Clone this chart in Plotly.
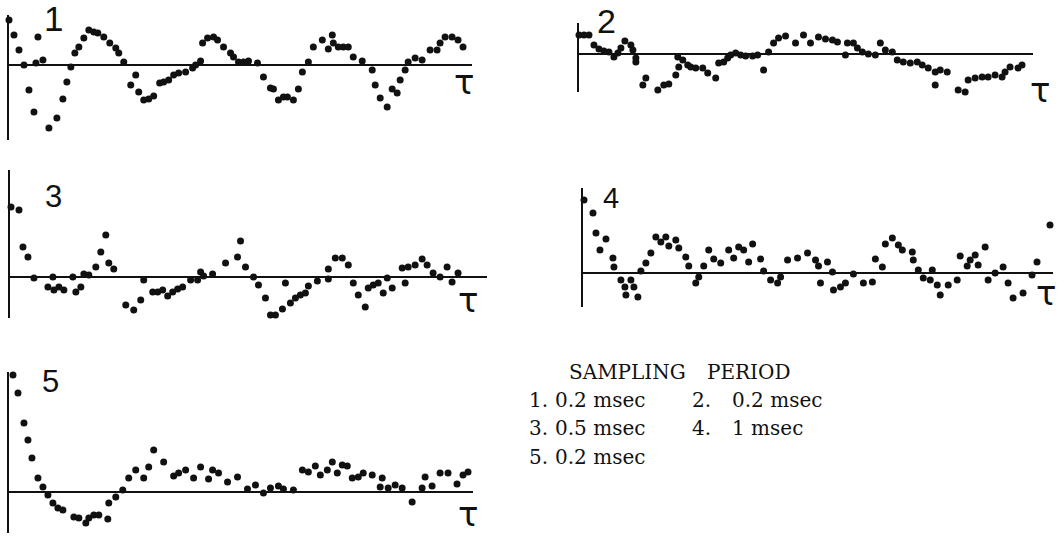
import plotly.graph_objects as go

# ---- data (arbitrary units: lag and correlation) ----
p1_lag = [0, 5, 10, 15, 20, 25, 27, 29, 34, 40, 48, 54, 58, 62, 66, 70, 75, 80, 85, 89, 95, 101, 107, 110, 115,
          122, 127, 130, 135, 140, 145, 151, 155, 160, 165, 170, 177, 184, 187, 192, 194, 199, 205, 209, 215, 222,
          225, 230, 235, 240, 249, 255, 262, 265, 270, 275, 279, 285, 290, 294, 300, 305, 314, 320, 324, 325, 330,
          335, 340, 345, 354, 364, 367, 372, 379, 384, 389, 392, 397, 400, 407, 414, 422, 429, 432, 437, 444, 450, 455]
p1_val = [45, 30, 15, 0, -25, -47, 2, 28, 5, -63, -53, -34, -17, -2, 12, 18, 27, 35, 33, 32, 28, 22, 17, 12, 3,
          -20, -10, -27, -35, -34, -31, -18, -17, -15, -10, -8, -7, -3, 0, 4, 22, 27, 28, 25, 18, 12,
          8, 3, 3, 4, 2, -12, -23, -24, -35, -32, -32, -35, -24, -7, 3, 18, 25, 16, 30, 22, 18,
          18, 18, 8, 4, -5, -20, -33, -42, -24, -28, -15, -5, 3, 7, 5, 15, 15, 22, 28, 28, 25, 18]

p2_lag = [0, 5, 10, 15, 20, 25, 30, 35, 39, 42, 46, 52, 54, 57, 57, 64, 67, 75, 79, 85, 90, 97, 100, 99, 104,
          109, 112, 117, 124, 129, 137, 140, 145, 149, 152, 157, 162, 167, 174, 179, 185, 190, 195, 200, 207,
          217, 225, 232, 240, 247, 254, 259, 267, 269, 275, 279, 284, 290, 297, 302, 307, 314, 319, 325, 332,
          339, 344, 350, 357, 357, 362, 369, 380, 387, 390, 397, 404, 410, 417, 424, 427, 432, 440, 444, 459]
p2_val = [19, 19, 19, 9, 5, 3, 2, -3, 1, 6, 13, 9, 4, -4, -8, -31, -24, -39, -36, -31, -30, -21, -13, -3, -6,
          -11, -13, -14, -14, -19, -24, -9, -8, -4, -1, 1, -1, -2, -2, -1, -16, 2, 11, 16, 18,
          11, 19, 11, 17, 15, 14, 12, -1, 11, 11, 6, 2, 0, -1, 11, 4, 2, -6, -8, -9,
          -8, -11, -14, -18, -31, -16, -18, -36, -38, -26, -24, -23, -23, -21, -23, -18, -13, -14, -11, -8]

p3_lag = [1, 9, 13, 18, 24, 38, 43, 44, 49, 54, 63, 66, 71, 74, 79, 86, 91, 96, 99, 104, 116, 124, 131, 134,
          143, 148, 153, 158, 163, 168, 173, 181, 188, 191, 194, 203, 216, 228, 231, 236, 244, 249, 256, 261,
          266, 273, 276, 281, 286, 291, 296, 299, 308, 319, 319, 326, 333, 339, 344, 349, 356, 359, 364, 369,
          374, 378, 383, 393, 396, 399, 406, 413, 418, 424, 431, 438, 443, 449]
p3_val = [70, 67, 30, 20, -1, -10, 0, -13, -10, -13, 0, -15, -10, 3, 2, 10, 25, 42, 14, 8, -28, -33, -23, -3,
          -15, -15, -13, -19, -15, -12, -10, -3, -3, 5, 1, 3, 14, 20, 36, 10, 0, -8, -21, -38,
          -38, -32, -6, -26, -21, -18, -16, -9, -4, -2, 8, 19, 19, 12, -6, -18, -30, -11, -8, -6,
          -16, -1, -11, 9, -6, 10, 12, 18, 12, 4, 0, 10, -5, 4]

p4_lag = [1, 10, 13, 17, 23, 30, 31, 38, 42, 43, 48, 51, 55, 58, 63, 68, 73, 78, 83, 86, 93, 96, 103, 106,
          113, 116, 121, 126, 131, 138, 146, 151, 156, 161, 166, 170, 178, 181, 188, 195, 198, 205, 215, 225,
          233, 236, 238, 245, 250, 251, 258, 263, 271, 281, 290, 293, 300, 303, 310, 316, 320, 330, 331, 336,
          341, 348, 350, 355, 358, 366, 375, 378, 385, 388, 393, 396, 403, 406, 413, 421, 426, 431, 441, 450,
          455, 468]
p4_val = [73, 60, 40, 23, 34, 15, 6, -7, -14, -22, -7, -14, -24, 2, 10, 20, 36, 31, 36, 27, 33, 25, 16, 7,
          -10, -4, 7, 23, 14, 10, 23, 15, 26, 23, 11, 29, 14, 2, -7, -10, -4, 13, 15, 20,
          13, 7, -10, 11, 1, -17, -14, -10, -1, -10, -9, 14, 6, 29, 35, 28, 23, 21, 13, 3,
          -5, -7, 3, -12, -22, -12, -7, 17, 7, 13, 18, 8, 26, -7, 0, 6, -10, -25, -20, -2,
          11, 48]

p5_lag = [4, 9, 15, 19, 23, 29, 34, 39, 44, 49, 54, 65, 70, 77, 80, 85, 90, 99, 100, 107, 114, 120, 127, 135,
          140, 145, 155, 165, 170, 177, 185, 192, 200, 204, 210, 219, 229, 239, 247, 255, 262, 270, 275, 285,
          294, 300, 307, 312, 319, 324, 329, 334, 339, 344, 350, 355, 364, 374, 372, 380, 387, 394, 404, 414,
          417, 424, 432, 440, 449, 455, 460]
p5_val = [117, 99, 69, 52, 34, 14, 5, -3, -11, -16, -18, -25, -26, -31, -26, -23, -23, -27, -11, -5, 2, 14, 22, 14,
          25, 42, 30, 16, 19, 22, 14, 25, 13, 22, 19, 10, 15, 3, 7, -1, 4, 6, 3, 2,
          22, 20, 26, 17, 22, 30, 19, 27, 26, 14, 15, 19, 17, 14, 5, 4, 7, 4, -10, 4,
          15, 6, 19, 19, 8, 17, 20]

panel_names = ["1", "2", "3", "4", "5"]
legend_title = ["SAMPLING", "PERIOD"]
legend_items = [("1.", "0.2 msec"), ("2.", "0.2 msec"), ("3.", "0.5 msec"), ("4.", "1 msec"), ("5.", "0.2 msec")]

W, H = 1058, 536
INK = "#111111"

# panel geometry in window pixels: origin x, zero-line y, axis top, axis bottom, right end
geom = [
    (8, 65, 15, 140, 472),
    (578, 54, 23, 92, 1033),
    (9, 277, 170, 318, 487),
    (582, 273, 188, 307, 1053),
    (8, 492, 372, 533, 473),
]
label_pos = [(53, 18, 35), (606, 21, 34), (53, 196, 31), (611, 198, 29), (50, 381, 31)]
tau_pos = [(464, 82), (1040, 90), (468, 300), (1046, 293), (468, 514)]
series = [(p1_lag, p1_val), (p2_lag, p2_val), (p3_lag, p3_val), (p4_lag, p4_val), (p5_lag, p5_val)]

fig = go.Figure()
annotations = []


def px(x):
    return x / W


def py(y):
    return 1 - y / H


for i, ((lag, val), (ox, oy, ya, yb, xr)) in enumerate(zip(series, geom), start=1):
    xa = "x" if i == 1 else f"x{i}"
    yax = "y" if i == 1 else f"y{i}"
    fig.add_trace(go.Scatter(
        x=lag, y=val, mode="markers",
        marker=dict(size=7, color=INK, line=dict(width=0)),
        xaxis=xa, yaxis=yax, cliponaxis=False, showlegend=False, hoverinfo="skip",
    ))
    fig.layout[f"xaxis{i if i > 1 else ''}"] = dict(
        domain=[px(ox + 1), px(xr)], range=[0, xr - ox], anchor=yax,
        showgrid=False, zeroline=False, showline=False, showticklabels=False, ticks="",
    )
    fig.layout[f"yaxis{i if i > 1 else ''}"] = dict(
        domain=[py(yb), py(ya)], range=[oy - yb, oy - ya], anchor=xa,
        showgrid=False, showline=True, linecolor=INK, linewidth=2,
        zeroline=True, zerolinecolor=INK, zerolinewidth=2,
        showticklabels=False, ticks="",
    )
    lx, ly, ls = label_pos[i - 1]
    annotations.append(dict(x=px(lx), y=py(ly), xref="paper", yref="paper", text=panel_names[i - 1],
                            showarrow=False, xanchor="center", yanchor="middle",
                            font=dict(family="Liberation Sans", size=ls, color=INK)))
    tx, ty = tau_pos[i - 1]
    annotations.append(dict(x=px(tx), y=py(ty), xref="paper", yref="paper", text="τ",
                            showarrow=False, xanchor="center", yanchor="middle",
                            font=dict(family="DejaVu Sans", size=34, color=INK)))

serif = dict(family="DejaVu Serif", size=20, color=INK)
annotations.append(dict(x=px(627), y=py(372), xref="paper", yref="paper", text=legend_title[0],
                        showarrow=False, xanchor="center", yanchor="middle", font=serif))
annotations.append(dict(x=px(748), y=py(372), xref="paper", yref="paper", text=legend_title[1],
                        showarrow=False, xanchor="center", yanchor="middle", font=serif))
item_pos = [(527, 553, 400), (690, 730, 400), (527, 553, 428), (690, 730, 428), (527, 553, 457)]
for (num, txt), (nx, tx2, yy) in zip(legend_items, item_pos):
    annotations.append(dict(x=px(nx), y=py(yy), xref="paper", yref="paper", text=num,
                            showarrow=False, xanchor="left", yanchor="middle", font=serif))
    annotations.append(dict(x=px(tx2), y=py(yy), xref="paper", yref="paper", text=txt,
                            showarrow=False, xanchor="left", yanchor="middle", font=serif))

fig.update_layout(
    width=W, height=H, margin=dict(l=0, r=0, t=0, b=0),
    paper_bgcolor="white", plot_bgcolor="white",
    annotations=annotations,
)

fig.write_html(
    "out.html",
    config={"displayModeBar": False},
    post_script="document.body.style.margin='0';document.body.style.overflow='hidden';",
)
